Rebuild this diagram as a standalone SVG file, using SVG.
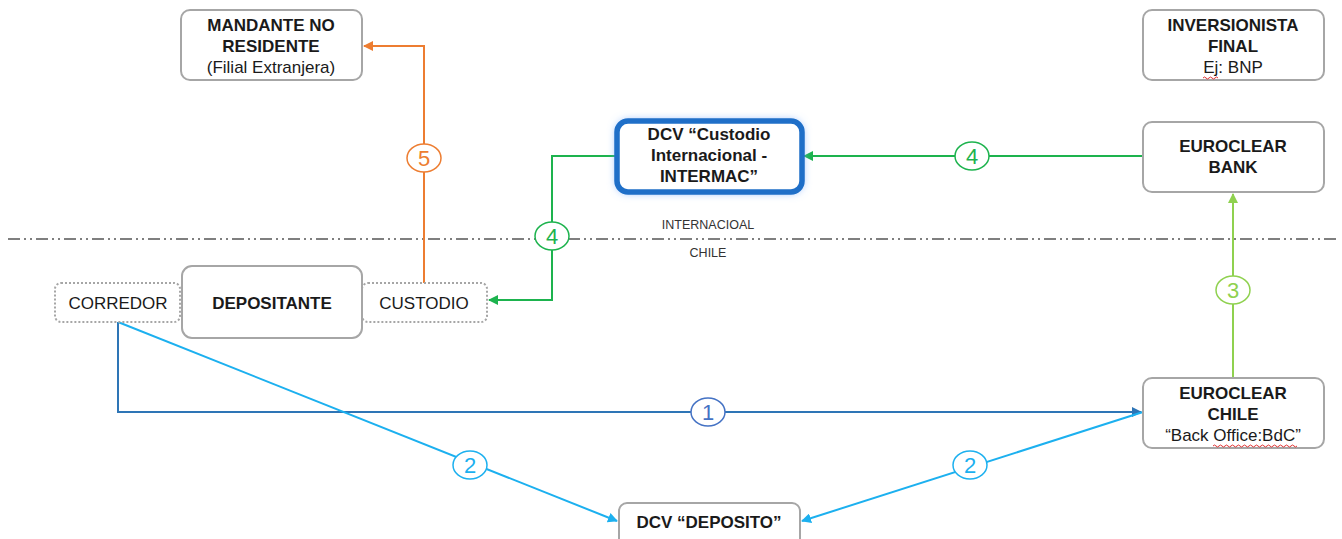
<svg xmlns="http://www.w3.org/2000/svg" width="1342" height="539" viewBox="0 0 1342 539">
<defs>
<style>
.box{fill:#fff;stroke:#a6a6a6;stroke-width:2}
.dot{fill:#fff;stroke:#a6a6a6;stroke-width:2;stroke-dasharray:2 2}
.t{font-family:"Liberation Sans",Arial,sans-serif;font-size:17px;fill:#1a1a1a;text-anchor:middle}
.b{font-weight:bold}
.s{font-family:"Liberation Sans",Arial,sans-serif;font-size:12.5px;fill:#333;text-anchor:middle}
.c{fill:none;stroke-width:2}
.lbl{fill:#fff;stroke-width:1.5}
.n{font-family:"Liberation Sans",Arial,sans-serif;font-size:22px;text-anchor:middle}
.sq{fill:none;stroke:#e03030;stroke-width:1}
</style>
<marker id="aO" viewBox="0 0 10 10" refX="9" refY="5" markerWidth="5" markerHeight="5" orient="auto-start-reverse"><path d="M0,0L10,5L0,10z" fill="#ed7d31"/></marker>
<marker id="aG" viewBox="0 0 10 10" refX="9" refY="5" markerWidth="5" markerHeight="5" orient="auto-start-reverse"><path d="M0,0L10,5L0,10z" fill="#1db34e"/></marker>
<marker id="aLG" viewBox="0 0 10 10" refX="9" refY="5" markerWidth="5" markerHeight="5" orient="auto-start-reverse"><path d="M0,0L10,5L0,10z" fill="#8fd14f"/></marker>
<marker id="aB" viewBox="0 0 10 10" refX="9" refY="5" markerWidth="5" markerHeight="5" orient="auto-start-reverse"><path d="M0,0L10,5L0,10z" fill="#2e75b6"/></marker>
<marker id="aC" viewBox="0 0 10 10" refX="9" refY="5" markerWidth="5" markerHeight="5" orient="auto-start-reverse"><path d="M0,0L10,5L0,10z" fill="#1cb0ef"/></marker>
<filter id="glow" x="-20%" y="-30%" width="140%" height="160%"><feGaussianBlur stdDeviation="5"/></filter>
</defs>
<rect width="1342" height="539" fill="#fff"/>

<g id="divider">
<line x1="8" y1="239" x2="1340" y2="239" stroke="#7f7f7f" stroke-width="2" stroke-dasharray="12 4 2 4 2 4"/>
<text class="s" x="708" y="229">INTERNACIOAL</text>
<text class="s" x="708" y="257">CHILE</text>
</g>

<g id="connectors">
<path class="c" d="M424,283V46H364" stroke="#ed7d31" marker-end="url(#aO)"/>
<path class="c" d="M1143,156H804" stroke="#1db34e" marker-end="url(#aG)"/>
<path class="c" d="M617,156H552V300H489" stroke="#1db34e" marker-end="url(#aG)"/>
<path class="c" d="M1233,378V194" stroke="#8fd14f" marker-end="url(#aLG)"/>
<path class="c" d="M118,322V412H1141" stroke="#2e75b6" marker-end="url(#aB)"/>
<path class="c" d="M118,322L617,521" stroke="#1cb0ef" marker-end="url(#aC)"/>
<path class="c" d="M1143,412L802,521" stroke="#1cb0ef" marker-end="url(#aC)"/>
<ellipse class="lbl" cx="424" cy="158" rx="17" ry="14" stroke="#ed7d31"/>
<text class="n" x="424" y="166" fill="#ed7d31">5</text>
<ellipse class="lbl" cx="972" cy="156" rx="17" ry="14" stroke="#1db34e"/>
<text class="n" x="972" y="164" fill="#1db34e">4</text>
<ellipse class="lbl" cx="552" cy="236" rx="17" ry="14" stroke="#1db34e"/>
<text class="n" x="552" y="244" fill="#1db34e">4</text>
<ellipse class="lbl" cx="1233" cy="290" rx="17" ry="14" stroke="#8fd14f"/>
<text class="n" x="1233" y="298" fill="#8fd14f">3</text>
<ellipse class="lbl" cx="708" cy="412" rx="17" ry="14" stroke="#4472c4"/>
<text class="n" x="708" y="420" fill="#4472c4">1</text>
<ellipse class="lbl" cx="470" cy="465" rx="17" ry="14" stroke="#1cb0ef"/>
<text class="n" x="470" y="473" fill="#1cb0ef">2</text>
<ellipse class="lbl" cx="970" cy="465" rx="17" ry="14" stroke="#1cb0ef"/>
<text class="n" x="970" y="473" fill="#1cb0ef">2</text>
</g>

<g id="mandante">
<rect class="box" x="181" y="10" width="181" height="70" rx="9"/>
<text class="t b" x="271" y="31">MANDANTE NO</text>
<text class="t b" x="271" y="52">RESIDENTE</text>
<text class="t" x="271" y="73">(Filial Extranjera)</text>
</g>

<g id="inversionista">
<rect class="box" x="1143" y="10" width="181" height="70" rx="9"/>
<text class="t b" x="1233" y="31">INVERSIONISTA</text>
<text class="t b" x="1233" y="52">FINAL</text>
<text class="t" x="1233" y="73">Ej: BNP</text>
<path class="sq" d="M1203,78q1.5,-2 3,0t3,0t3,0t3,0t3,0"/>
</g>

<g id="euroclear-bank">
<rect class="box" x="1143" y="122" width="181" height="70" rx="9"/>
<text class="t b" x="1233" y="152">EUROCLEAR</text>
<text class="t b" x="1233" y="173">BANK</text>
</g>

<g id="dcv-custodio">
<rect x="617" y="121" width="185" height="71" rx="11" fill="#6fa8ff" filter="url(#glow)"/>
<rect x="617" y="121" width="185" height="71" rx="11" fill="#fff" stroke="#1f6fc8" stroke-width="5.5"/>
<text class="t b" x="709" y="140">DCV “Custodio</text>
<text class="t b" x="709" y="161">Internacional -</text>
<text class="t b" x="709" y="182">INTERMAC”</text>
</g>

<g id="corredor">
<rect class="dot" x="55" y="283" width="125" height="39" rx="6"/>
<text class="t" x="118" y="309">CORREDOR</text>
</g>

<g id="custodio">
<rect class="dot" x="362" y="283" width="125" height="39" rx="6"/>
<text class="t" x="424" y="309">CUSTODIO</text>
</g>

<g id="depositante">
<rect class="box" x="182" y="266" width="180" height="72" rx="10"/>
<text class="t b" x="272" y="309">DEPOSITANTE</text>
</g>

<g id="euroclear-chile">
<rect class="box" x="1143" y="378" width="181" height="70" rx="9"/>
<text class="t b" x="1233" y="399">EUROCLEAR</text>
<text class="t b" x="1233" y="420">CHILE</text>
<text class="t" x="1233" y="441">“Back Office:BdC”</text>
<path class="sq" d="M1213,446q1.5,-2 3,0t3,0t3,0t3,0t3,0t3,0t3,0t3,0t3,0t3,0t3,0t3,0t3,0t3,0t3,0t3,0t3,0t3,0t3,0t3,0t3,0t3,0t3,0t3,0t3,0t3,0t3,0t3,0"/>
</g>

<g id="dcv-deposito">
<rect class="box" x="619" y="503" width="181" height="50" rx="8"/>
<text class="t b" x="709" y="528">DCV “DEPOSITO”</text>
</g>
</svg>
